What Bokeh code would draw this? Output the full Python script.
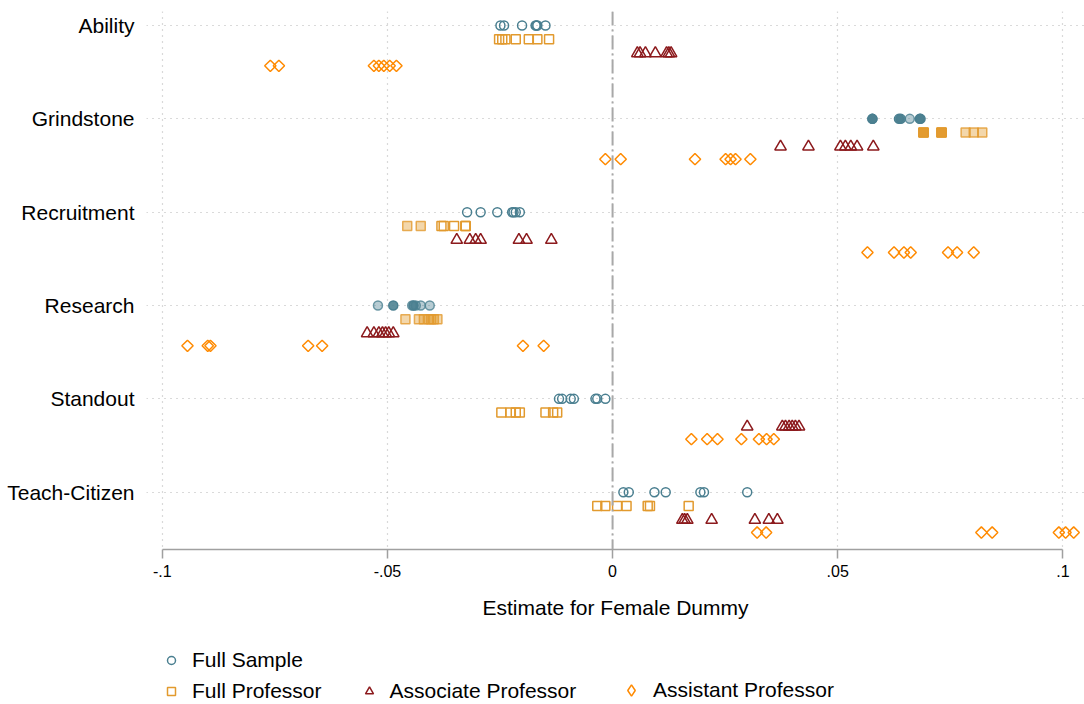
import numpy as np
from bokeh.plotting import figure
from bokeh.layouts import column
from bokeh.models import (Range1d, FixedTicker, Span, Legend, LegendItem, ColumnDataSource)
from bokeh.embed import file_html
from bokeh.resources import INLINE

categories = ["Ability", "Grindstone", "Recruitment", "Research", "Standout", "Teach-Citizen"]
series_names = ["Full Sample", "Full Professor", "Associate Professor", "Assistant Professor"]

# estimates for female dummy (7 specifications per category)
full_sample = [
    [-0.0249, -0.0241, -0.0201, -0.0171, -0.0169, -0.0167, -0.0149],
    [0.0577, 0.0577, 0.0636, 0.0640, 0.0660, 0.0682, 0.0684],
    [-0.0323, -0.0293, -0.0256, -0.0223, -0.0220, -0.0215, -0.0206],
    [-0.0521, -0.0487, -0.0445, -0.0442, -0.0437, -0.0426, -0.0406],
    [-0.0119, -0.0112, -0.0093, -0.0086, -0.0038, -0.0034, -0.0016],
    [0.0024, 0.0036, 0.0093, 0.0118, 0.0195, 0.0203, 0.0299],
]
full_professor = [
    [-0.0252, -0.0245, -0.0238, -0.0215, -0.0186, -0.0167, -0.0141],
    [0.0690, 0.0691, 0.0730, 0.0731, 0.0784, 0.0802, 0.0821],
    [-0.0456, -0.0426, -0.0380, -0.0375, -0.0352, -0.0327, -0.0326],
    [-0.0460, -0.0430, -0.0419, -0.0408, -0.0403, -0.0397, -0.0389],
    [-0.0247, -0.0227, -0.0215, -0.0206, -0.0149, -0.0132, -0.0123],
    [-0.0034, -0.0016, 0.0010, 0.0031, 0.0078, 0.0083, 0.0169],
]
associate_professor = [
    [0.0055, 0.0061, 0.0073, 0.0095, 0.0120, 0.0125, 0.0130],
    [0.0373, 0.0435, 0.0506, 0.0517, 0.0529, 0.0543, 0.0579],
    [-0.0346, -0.0317, -0.0304, -0.0293, -0.0208, -0.0191, -0.0136],
    [-0.0545, -0.0530, -0.0519, -0.0511, -0.0504, -0.0497, -0.0487],
    [0.0299, 0.0377, 0.0384, 0.0392, 0.0399, 0.0406, 0.0414],
    [0.0155, 0.0160, 0.0166, 0.0220, 0.0316, 0.0347, 0.0366],
]
assistant_professor = [
    [-0.0760, -0.0741, -0.0530, -0.0519, -0.0508, -0.0495, -0.0480],
    [-0.0016, 0.0018, 0.0183, 0.0251, 0.0262, 0.0273, 0.0306],
    [0.0566, 0.0625, 0.0647, 0.0662, 0.0745, 0.0765, 0.0802],
    [-0.0944, -0.0899, -0.0893, -0.0676, -0.0645, -0.0199, -0.0153],
    [0.0175, 0.0210, 0.0233, 0.0286, 0.0325, 0.0342, 0.0358],
    [0.0321, 0.0341, 0.0819, 0.0843, 0.0991, 0.1006, 0.1024],
]
# significance level per estimate (0 = n.s., 1 = 5%, 2 = 1%)
full_sample_sig = [
    [0, 0, 0, 0, 0, 0, 0],
    [2, 2, 2, 2, 1, 2, 2],
    [0, 0, 0, 0, 0, 0, 0],
    [1, 2, 1, 2, 1, 1, 1],
    [0, 0, 0, 0, 0, 0, 0],
    [0, 0, 0, 0, 0, 0, 0],
]
full_professor_sig = [
    [0, 0, 0, 0, 0, 0, 0],
    [2, 2, 2, 2, 1, 1, 1],
    [1, 1, 0, 0, 0, 0, 0],
    [1, 1, 1, 1, 1, 1, 1],
    [0, 0, 0, 0, 0, 0, 0],
    [0, 0, 0, 0, 0, 0, 0],
]
associate_professor_sig = [
    [0, 0, 0, 0, 0, 0, 0],
    [0, 0, 0, 0, 0, 0, 0],
    [0, 0, 0, 0, 0, 0, 0],
    [0, 0, 0, 0, 0, 0, 0],
    [0, 0, 0, 0, 0, 0, 0],
    [0, 0, 0, 0, 0, 0, 0],
]
assistant_professor_sig = [
    [0, 0, 0, 0, 0, 0, 0],
    [0, 0, 0, 0, 0, 0, 0],
    [0, 0, 0, 0, 0, 0, 0],
    [0, 0, 0, 0, 0, 0, 0],
    [0, 0, 0, 0, 0, 0, 0],
    [0, 0, 0, 0, 0, 0, 0],
]

x_ticks = [-0.1, -0.05, 0, 0.05, 0.1]
x_tick_labels = ["-.1", "-.05", "0", ".05", ".1"]
x_title = "Estimate for Female Dummy"

FONT = "Liberation Sans"

p = figure(width=1084, height=630,
           x_range=Range1d(-0.1035, 0.1048), y_range=Range1d(5.614, -0.150),
           output_backend="svg", toolbar_location=None,
           min_border_left=146, min_border_right=0, min_border_top=11, min_border_bottom=81)
p.outline_line_color = None
p.background_fill_color = "white"
p.border_fill_color = "white"

# x axis
xa = p.xaxis[0]
xa.ticker = FixedTicker(ticks=x_ticks)
xa.major_label_overrides = dict(zip(x_ticks, x_tick_labels))
xa.bounds = (x_ticks[0], x_ticks[-1])
xa.axis_line_color = "#a0a0a0"
xa.axis_line_width = 1.5
xa.major_tick_line_color = "#a0a0a0"
xa.major_tick_line_width = 1.5
xa.major_tick_out = 9
xa.major_tick_in = 0
xa.minor_tick_line_color = None
xa.major_label_text_font = FONT
xa.major_label_text_font_size = "16px"
xa.major_label_text_color = "black"
xa.major_label_standoff = 6
xa.axis_label = x_title
xa.axis_label_text_font = FONT
xa.axis_label_text_font_size = "21px"
xa.axis_label_text_font_style = "normal"
xa.axis_label_text_color = "black"
xa.axis_label_standoff = 16

# y axis
ya = p.yaxis[0]
y_positions = list(range(len(categories)))
ya.ticker = FixedTicker(ticks=y_positions)
ya.major_label_overrides = dict(zip(y_positions, categories))
ya.axis_line_color = None
ya.major_tick_line_color = None
ya.minor_tick_line_color = None
ya.major_label_text_font = FONT
ya.major_label_text_font_size = "21px"
ya.major_label_text_color = "black"
ya.major_label_standoff = 6

# grids
for g in (p.xgrid[0], p.ygrid[0]):
    g.grid_line_color = "#b4b4b4"
    g.grid_line_dash = "1 5"
    g.grid_line_width = 1.2
p.xgrid[0].ticker = FixedTicker(ticks=x_ticks)
p.ygrid[0].ticker = FixedTicker(ticks=y_positions)

p.add_layout(Span(location=0, dimension="height", line_color="#a8a8a8",
                  line_width=2, line_dash="14 4 2 4"))

styles = [
    dict(values=full_sample, sig=full_sample_sig, color="#4a7f90", marker="circle",
         size=9, angle=0.0, offset=0.0, key="circle"),
    dict(values=full_professor, sig=full_professor_sig, color="#e29a2e", marker="square",
         size=9, angle=0.0, offset=0.147, key="square"),
    dict(values=associate_professor, sig=associate_professor_sig, color="#8c1a1d", marker="triangle",
         size=11.5, angle=0.0, offset=0.298, key="triangle"),
    dict(values=assistant_professor, sig=assistant_professor_sig, color="#ff8a00", marker="square",
         size=8, angle=np.pi / 4, offset=0.432, key="diamond"),
]
fill_by_sig = {0: 0.0, 1: 0.4, 2: 0.88}
line_by_sig = {0: 1.0, 1: 0.8, 2: 1.0}

for st in styles:
    xs, ys, fa, la = [], [], [], []
    for ci, (vals, sigs) in enumerate(zip(st["values"], st["sig"])):
        for v, s in zip(vals, sigs):
            xs.append(v)
            ys.append(ci + st["offset"])
            fa.append(fill_by_sig[s])
            la.append(line_by_sig[s])
    src = ColumnDataSource(dict(x=xs, y=ys, fa=fa, la=la))
    p.scatter("x", "y", source=src, marker=st["marker"], size=st["size"], angle=st["angle"],
              line_color=st["color"], fill_color=st["color"], fill_alpha="fa",
              line_alpha="la", line_width=1.5)

# legend strip (own figure so nothing is clipped)
pl = figure(width=1084, height=74, x_range=Range1d(0, 1), y_range=Range1d(0, 1),
            output_backend="svg", toolbar_location=None,
            min_border_left=0, min_border_right=0, min_border_top=0, min_border_bottom=0)
pl.outline_line_color = None
pl.axis.visible = False
pl.grid.visible = False
pl.background_fill_color = "white"
pl.border_fill_color = "white"

proxies = []
for st in styles:
    # legend-key glyphs: one point kept outside the visible range
    r = pl.scatter(x=[-5.0], y=[-5.0], marker=st["key"], size=8,
                   line_color=st["color"], fill_color=st["color"], fill_alpha=0, line_width=1.5)
    proxies.append(r)

common = dict(padding=0, margin=0, border_line_color=None, background_fill_alpha=0,
              label_text_font=FONT, label_text_font_size="21px", label_text_color="black")

leg1 = Legend(items=[LegendItem(label=series_names[0], renderers=[proxies[0]])],
              location=(15, 32), orientation="vertical",
              glyph_width=20, glyph_height=20, label_standoff=11, **common)
leg2 = Legend(items=[LegendItem(label=n, renderers=[r]) for n, r in zip(series_names[1:3], proxies[1:3])],
              location=(15, 1), orientation="horizontal", spacing=37,
              glyph_width=20, glyph_height=20, label_standoff=11, **common)
leg3 = Legend(items=[LegendItem(label=series_names[3], renderers=[proxies[3]])],
              location=(471, 0), orientation="horizontal",
              glyph_width=28, glyph_height=28, label_standoff=8, **common)
pl.add_layout(leg1)
pl.add_layout(leg2)
pl.add_layout(leg3)

layout = column(p, pl, spacing=0)
open("out.html", "w").write(file_html(layout, INLINE))
